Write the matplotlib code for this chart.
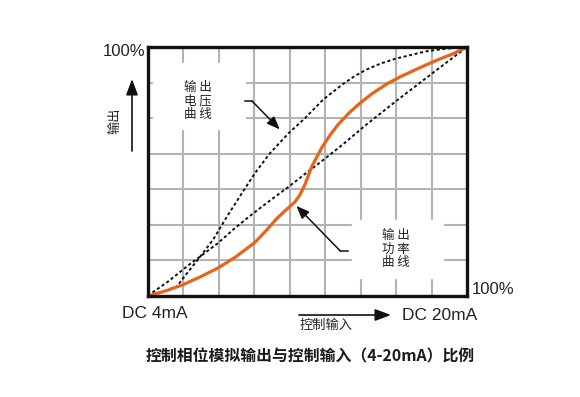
import matplotlib.pyplot as plt
from matplotlib.patches import Rectangle

# fractions of full scale (0 = DC 4mA / 0%, 1 = DC 20mA / 100%)
power_x = [0, 0.057, 0.107, 0.161, 0.219, 0.276, 0.335, 0.372, 0.403, 0.432, 0.461, 0.478, 0.492,
           0.513, 0.545, 0.570, 0.597, 0.630, 0.665, 0.705, 0.748, 0.790, 0.832, 0.875, 0.915, 0.955, 1.0]
power_y = [0, 0.021, 0.044, 0.075, 0.112, 0.158, 0.215, 0.265, 0.310, 0.345, 0.378, 0.410, 0.448,
           0.519, 0.596, 0.645, 0.690, 0.735, 0.775, 0.815, 0.851, 0.880, 0.905, 0.930, 0.952, 0.972, 1.0]

voltage_x = [0, 0.057, 0.090, 0.125, 0.163, 0.205, 0.247, 0.294, 0.335, 0.382, 0.440, 0.492,
             0.550, 0.612, 0.650, 0.686, 0.730, 0.779, 0.873, 0.940, 1.0]
voltage_y = [0, 0.022, 0.038, 0.096, 0.157, 0.228, 0.318, 0.412, 0.493, 0.573, 0.653, 0.714,
             0.790, 0.852, 0.885, 0.910, 0.934, 0.954, 0.983, 0.994, 1.0]

linear_x = [0, 0.016, 0.063, 0.125, 0.163, 0.219, 0.270, 0.320, 0.382, 0.440, 0.492, 0.555,
            0.612, 0.686, 0.779, 0.894, 1.0]
linear_y = [0, 0.016, 0.058, 0.122, 0.158, 0.212, 0.270, 0.322, 0.383, 0.438, 0.490, 0.552,
            0.610, 0.690, 0.784, 0.897, 1.0]

n_cols = 9
n_rows = 7

voltage_label = ["输 出", "电 压", "曲 线"]
power_label = ["输 出", "功 率", "曲 线"]
title = "控制相位模拟输出与控制输入（4-20mA）比例"

W, H = 580, 397
cjk = ["Noto Sans CJK SC", "DejaVu Sans"]
latin = ["Liberation Sans", "DejaVu Sans"]


def px(x, y):
    return (x / W, 1 - y / H)


fig = plt.figure(figsize=(W / 100, H / 100), dpi=100)
ax = fig.add_axes([148 / W, 1 - 296 / H, 319 / W, 249 / H])
ax.set_xlim(0, 1)
ax.set_ylim(0, 1)
ax.set_xticks([])
ax.set_yticks([])
for s in ax.spines.values():
    s.set_linewidth(2.4)
    s.set_color("#111111")
    s.set_zorder(6)

# grid
ax.vlines([i / n_cols for i in range(1, n_cols)], 0, 1, color="#b3b3b3", lw=1.5, zorder=1)
ax.hlines([j / n_rows for j in range(1, n_rows)], 0, 1, color="#b3b3b3", lw=1.5, zorder=1)

# white label areas
ax.add_patch(Rectangle((0.016, 0.671), 0.288, 0.265, color="white", zorder=2))
ax.add_patch(Rectangle((0.639, 0.072), 0.286, 0.233, color="white", zorder=2))

# curves
dash = (0, (1.6, 1.3))
ax.plot(voltage_x, voltage_y, color="#111111", lw=1.4, linestyle=dash, zorder=3)
ax.plot(linear_x, linear_y, color="#111111", lw=1.4, linestyle=dash, zorder=3)
ax.plot(power_x, power_y, color="#e8641c", lw=2.3, zorder=4, solid_capstyle="round",
        solid_joinstyle="round")

# labels inside the chart
ax.text(0.157, 0.783, "\n".join(voltage_label), fontsize=9, family=cjk, ha="center", va="center",
        linespacing=1.05, zorder=5, color="#222222")
ax.text(0.776, 0.189, "\n".join(power_label), fontsize=9, family=cjk, ha="center", va="center",
        linespacing=1.05, zorder=5, color="#222222")

# pointer arrows
arrow_kw = dict(arrowstyle="-|>,head_length=0.65,head_width=0.26", color="#111111", lw=1.1,
                mutation_scale=12, shrinkA=0, shrinkB=0)
ax.plot([0.304, 0.326], [0.783, 0.783], color="#111111", lw=1.1, zorder=5)
ax.annotate("", xy=(0.413, 0.669), xytext=(0.326, 0.783), arrowprops=arrow_kw, zorder=5)
ax.plot([0.626, 0.602], [0.182, 0.182], color="#111111", lw=1.1, zorder=5)
ax.annotate("", xy=(0.465, 0.362), xytext=(0.602, 0.182), arrowprops=arrow_kw, zorder=5)

# axis arrows
ax_arrow = dict(arrowstyle="-|>,head_length=0.8,head_width=0.3", color="#111111", lw=1.2,
                mutation_scale=12, shrinkA=0, shrinkB=0)
fig.add_artist(plt.Annotation("", xy=px(132, 79), xytext=px(132, 151), xycoords="figure fraction",
                              textcoords="figure fraction", arrowprops=ax_arrow))
fig.add_artist(plt.Annotation("", xy=px(391, 315), xytext=px(299, 315), xycoords="figure fraction",
                              textcoords="figure fraction", arrowprops=ax_arrow))

# outside texts
fig.text(*px(145, 52), "100%", fontsize=12, family=latin, ha="right", va="center", color="#222222")
fig.text(*px(472, 289), "100%", fontsize=12, family=latin, ha="left", va="center", color="#222222")
fig.text(*px(155, 314), "DC 4mA", fontsize=12.5, family=latin, ha="center", va="center", color="#222222")
fig.text(*px(440, 315), "DC 20mA", fontsize=12.5, family=latin, ha="center", va="center", color="#222222")
fig.text(*px(326, 325), "控制输入", fontsize=9.5, family=cjk, ha="center", va="center", color="#222222")
fig.text(*px(115, 121), "输出", fontsize=9.5, family=cjk, ha="center", va="center", rotation=90,
         color="#222222")
fig.text(*px(310, 356), title, fontsize=11.4, family=cjk, weight="bold", ha="center", va="center",
         color="#1a1a1a")

fig.savefig("out.png", dpi=100)
